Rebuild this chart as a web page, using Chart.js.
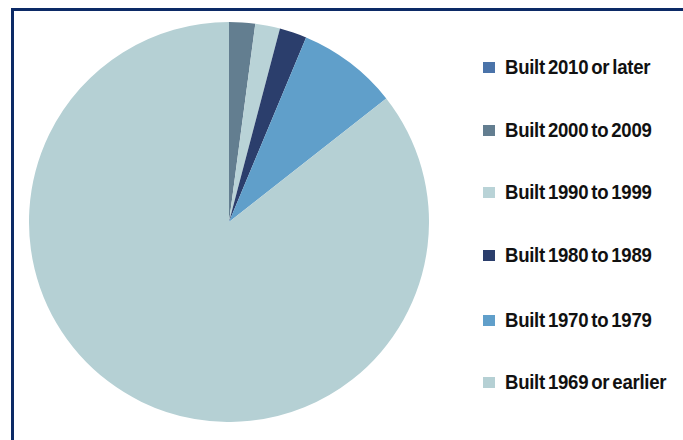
<!DOCTYPE html>
<html>
<head>
<meta charset="utf-8">
<script src="https://cdn.jsdelivr.net/npm/chart.js@4"></script>
<style>
    body { margin: 0; background: #fff; width: 683px; height: 440px; overflow: hidden; position: relative; }
    #frame { position: absolute; left: 11px; top: 8px; width: 700px; height: 460px; border-left: 3px solid #0c2a66; border-top: 3px solid #0c2a66; }
    #pieBox { position: absolute; left: 29px; top: 22px; width: 400px; height: 400px; }
    #legend { position: absolute; left: 483px; top: 0; font-family: "Liberation Sans", Arial, sans-serif; font-weight: bold; font-size: 20px; color: #111; }
    .item { position: absolute; white-space: nowrap; display: flex; align-items: center; }
    .swatch { width: 12px; height: 11px; margin-right: 10px; flex: none; }
    .label { display: inline-block; transform: scaleX(0.93); transform-origin: left center; letter-spacing: -0.3px; word-spacing: -2px; }
</style>
</head>
<body>
<div id="frame"></div>
<div id="pieBox"><canvas id="pieChart"></canvas></div>
<div id="legend"></div>
<script>
const categories = ['Built 2010 or later', 'Built 2000 to 2009', 'Built 1990 to 1999', 'Built 1980 to 1989', 'Built 1970 to 1979', 'Built 1969 or earlier'];
const shares = [0, 2.1, 2.0, 2.2, 8.1, 85.6];
const colors = ['#4a73a9', '#637e90', '#b9d3d7', '#2b3e6c', '#609fca', '#b5d0d4'];

const ctx = document.getElementById('pieChart').getContext('2d');
const pieChart = new Chart(ctx, {
    type: 'pie',
    data: {
        labels: categories,
        datasets: [{
            data: shares,
            backgroundColor: colors,
            borderWidth: 0
        }]
    },
    options: {
        responsive: true,
        maintainAspectRatio: false,
        animation: false,
        layout: { padding: 0 },
        plugins: {
            legend: { display: false },
            tooltip: { enabled: false }
        }
    }
});

// legend drawn beside the pie, one row per category
const legend = document.getElementById('legend');
const rowY = [67, 130, 192, 255, 320, 382];
categories.forEach(function (name, i) {
    const item = document.createElement('div');
    item.className = 'item';
    item.style.top = (rowY[i] - 12) + 'px';
    item.style.height = '24px';
    const sw = document.createElement('span');
    sw.className = 'swatch';
    sw.style.background = colors[i];
    const txt = document.createElement('span');
    txt.className = 'label';
    txt.textContent = name;
    item.appendChild(sw);
    item.appendChild(txt);
    legend.appendChild(item);
});
</script>
</body>
</html>
